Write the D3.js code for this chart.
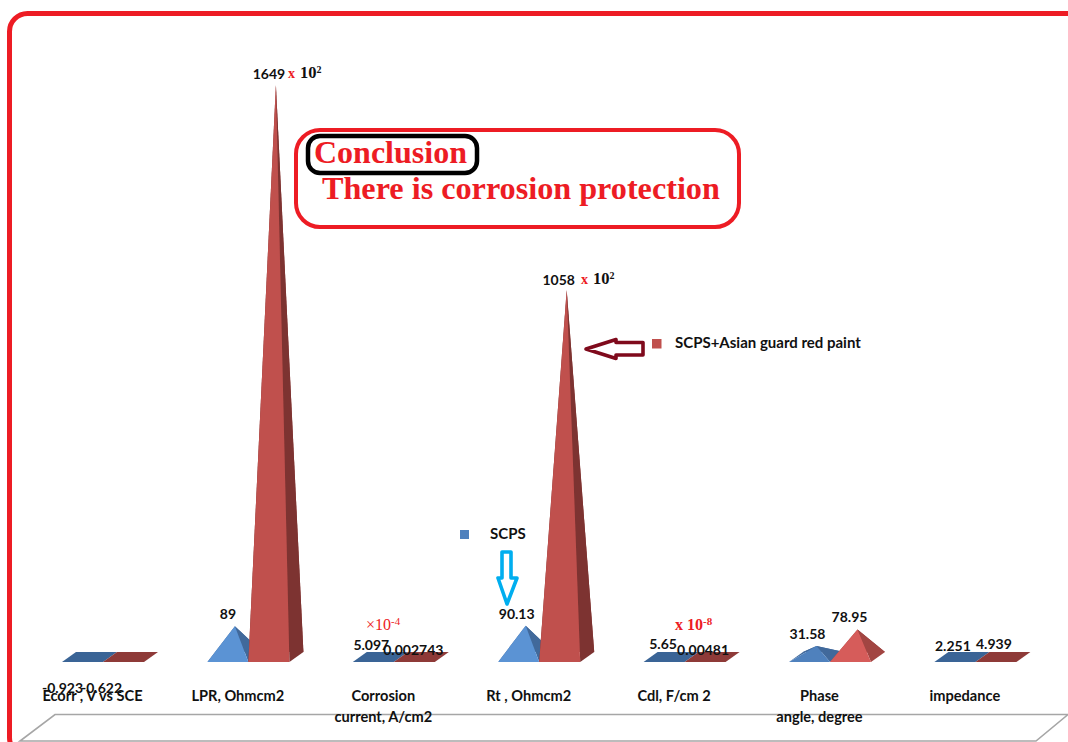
<!DOCTYPE html>
<html><head><meta charset="utf-8">
<script src="https://cdn.jsdelivr.net/npm/d3@7"></script>
<style>html,body{margin:0;padding:0;background:#fff;overflow:hidden}svg{display:block}</style>
</head><body><svg id="c" width="1068" height="742"></svg>
<script>
const categories=["Ecorr , V vs SCE","LPR, Ohmcm2","Corrosion current, A/cm2","Rt , Ohmcm2","Cdl, F/cm 2","Phase angle, degree","impedance"];
const categoryLines=[["Ecorr , V vs SCE"],["LPR, Ohmcm2"],["Corrosion","current, A/cm2"],["Rt , Ohmcm2"],["Cdl, F/cm 2"],["Phase","angle, degree"],["impedance"]];
const seriesNames=["SCPS","SCPS+Asian guard red paint"];
const scpsValues=[-0.923,89,5.097,90.13,5.65,31.58,2.251];
const paintValues=[-0.622,1649,0.002743,1058,0.00481,78.95,4.939];
const scpsLabelOffset=[[-27,32],[-7,-11],[-9,-9],[-9,-10],[-8,-10],[-9,-11],[-9,-9]];
const paintLabelOffset=[[-29,32],[-7,-10],[-8,-6],[-8,-9],[-9,-6],[-8,-11],[-9,-10]];

const svg=d3.select("#c");
const RED="#ed1c24";
const sans="Lato, 'Open Sans', sans-serif", serif="'Liberation Serif', serif";
const x=d3.scalePoint().domain(categories).range([62,934.4]);
const xs=d3.scaleBand().domain(seriesNames).range([0,82]);
const y=d3.scaleLinear().domain([0,1649]).range([657,85]);
const baseY=662, dx=14, dy=-10;
const line=d3.line();

// outer frame
svg.append("rect").attr("x",9.5).attr("y",13.5).attr("width",1110).attr("height",742)
  .attr("rx",18).attr("fill","none").attr("stroke",RED).attr("stroke-width",5);

// floor
svg.append("path").attr("d",line([[1068,714.5],[55,714.5],[20,741],[1036,741],[1068,714.5]]))
  .attr("fill","#fff").attr("stroke","#a6a6a6").attr("stroke-width",1.6);

const palette={
 SCPS:{front:"#5b93d4",side:"#41699b",flat:"#3a6496",back:"#3f6aa0"},
 paint:{front:"#c0504d",side:"#7d3331",flat:"#8e3a38",back:"#8e3a38"}
};
const rows=[];
categories.forEach((c,i)=>{
  rows.push({c,i,s:seriesNames[0],v:scpsValues[i],pal:palette.SCPS,off:scpsLabelOffset[i]});
  rows.push({c,i,s:seriesNames[1],v:paintValues[i],pal:palette.paint,off:paintLabelOffset[i]});
});
const w=xs.bandwidth();
const g=svg.append("g");
rows.forEach(r=>{
  const x0=x(r.c)+xs(r.s);
  const A=[x0,baseY],B=[x0+w,baseY],C=[x0+w+dx,baseY+dy],D=[x0+dx,baseY+dy];
  const apex=[x0+w/2+dx/2,y(Math.max(r.v,0))];
  const h=657-apex[1]; const flat=h<5;
  r.apex=apex;
  let front=flat?r.pal.flat:r.pal.front, side=flat?r.pal.flat:r.pal.side;
  if(!flat&&h<30&&r.s!==seriesNames[0]){front="#d65c5a";side="#a24542";}
  if(!flat&&h<15){front="#4f81bd";side="#41699b";}
  if(flat) g.append("path").attr("d",line([A,B,C,D])+"Z").attr("fill",r.pal.flat);
  else{
    g.append("path").attr("d",line([D,C,apex])+"Z").attr("fill",r.pal.back);
    g.append("path").attr("d",line([A,D,apex])+"Z").attr("fill",side);
    g.append("path").attr("d",line([B,C,apex])+"Z").attr("fill",side);
    g.append("path").attr("d",line([A,B,apex])+"Z").attr("fill",front);
  }
});
// value labels
const fmt=v=>String(v);
svg.append("g").selectAll("text").data(rows).join("text")
  .attr("x",d=>d.apex[0]+d.off[0]).attr("y",d=>d.apex[1]+d.off[1])
  .attr("text-anchor","middle").attr("dominant-baseline","middle")
  .attr("font-family",sans).attr("font-weight",700).attr("font-size",14).attr("fill","#111")
  .text(d=>fmt(d.v));

// category labels
categoryLines.forEach((ls,i)=>{
  ls.forEach((t,j)=>{
    svg.append("text").attr("x",x(categories[i])+30.5).attr("y",700.5+j*21)
     .attr("text-anchor","middle").attr("font-family",sans).attr("font-weight",700)
     .attr("font-size",14.6).attr("fill","#111").text(t);
  });
});

// multipliers
function mult(px,py,parts){
  const t=svg.append("text").attr("x",px).attr("y",py).attr("font-family",serif);
  parts.forEach(p=>{
    const s=t.append("tspan").attr("fill",p.fill).attr("font-size",p.size).attr("font-weight",p.bold?700:400).text(p.t);
    if(p.up) s.attr("dy",p.up);
    if(p.dx) s.attr("dx",p.dx);
  });
}
function power(px,py){
  mult(px,py,[{t:"x",fill:RED,size:14,bold:true},{t:"10",fill:"#111",size:16.5,bold:true,dx:5},{t:"2",fill:"#111",size:10,bold:true,up:-5}]);
}
power(288,78); power(581,284);
mult(366,630,[{t:"×10",fill:RED,size:16},{t:"-4",fill:RED,size:11,up:-5}]);
mult(675,630,[{t:"x 10",fill:RED,size:16,bold:true},{t:"-8",fill:RED,size:11,bold:true,up:-5}]);

// legend
const legend=[{n:seriesNames[0],c:"#4f81bd",sx:460,sy:530,s:9,tx:490,ty:539},
              {n:seriesNames[1],c:"#c0504d",sx:652,sy:339,s:9.5,tx:675,ty:348}];
legend.forEach(l=>{
  svg.append("rect").attr("x",l.sx).attr("y",l.sy).attr("width",l.s).attr("height",l.s).attr("fill",l.c);
  svg.append("text").attr("x",l.tx).attr("y",l.ty).attr("font-family",sans).attr("font-weight",700)
    .attr("font-size",15).attr("fill","#111").text(l.n);
});

// arrows
svg.append("path").attr("d",line([[586,349],[616,339.5],[616,342.5],[643,342.5],[643,355],[616,355],[616,358.5]])+"Z")
  .attr("fill","#fff").attr("stroke","#7f0a1c").attr("stroke-width",3.6).attr("stroke-linejoin","round");
svg.append("path").attr("d",line([[502,552],[511,552],[511,578],[517,578],[507,604],[498,578],[502,578]])+"Z")
  .attr("fill","#fff").attr("stroke","#00aeef").attr("stroke-width",3.6).attr("stroke-linejoin","round");

// conclusion box
svg.append("rect").attr("x",296).attr("y",130).attr("width",443).attr("height",97).attr("rx",24)
  .attr("fill","#fff").attr("stroke",RED).attr("stroke-width",4);
svg.append("rect").attr("x",308).attr("y",136).attr("width",169).attr("height",37).attr("rx",12)
  .attr("fill","#fff").attr("stroke","#000").attr("stroke-width",4.5);
svg.append("text").attr("x",314).attr("y",163).attr("font-family",serif).attr("font-weight",700)
  .attr("font-size",32).attr("fill",RED).text("Conclusion");
svg.append("text").attr("x",322).attr("y",199).attr("font-family",serif).attr("font-weight",700)
  .attr("font-size",32.2).attr("fill",RED).text("There is corrosion protection");
</script></body></html>
